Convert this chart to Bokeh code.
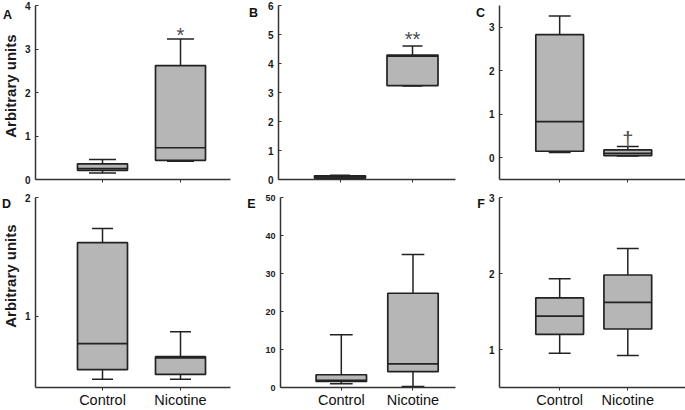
import math
from bokeh.plotting import figure
from bokeh.layouts import row, column
from bokeh.models import Range1d, FixedTicker, ColumnDataSource
from bokeh.core.properties import value
from bokeh.embed import file_html
from bokeh.resources import INLINE

# ---------------- data ----------------
groups = ["Control", "Nicotine"]
group_pos = [1, 2]
panel_letters = ["A", "B", "C", "D", "E", "F"]
y_title = "Arbitrary units"

# box plot statistics per group: [Control, Nicotine]
a_low = [0.15, 0.42]; a_q1 = [0.21, 0.44]; a_med = [0.25, 0.73]; a_q3 = [0.36, 2.62]; a_high = [0.46, 3.23]
b_low = [0.02, 3.22]; b_q1 = [0.05, 3.24]; b_med = [0.09, 4.25]; b_q3 = [0.13, 4.29]; b_high = [0.15, 4.60]
c_low = [0.12, 0.04]; c_q1 = [0.15, 0.05]; c_med = [0.83, 0.10]; c_q3 = [2.83, 0.18]; c_high = [3.26, 0.26]
d_low = [0.47, 0.47]; d_q1 = [0.55, 0.51]; d_med = [0.77, 0.65]; d_q3 = [1.62, 0.66]; d_high = [1.74, 0.87]
e_low = [1.0, 0.26]; e_q1 = [1.6, 4.2]; e_med = [1.85, 6.2]; e_q3 = [3.35, 24.8]; e_high = [13.9, 35.0]
f_low = [0.95, 0.92]; f_q1 = [1.20, 1.27]; f_med = [1.44, 1.62]; f_q3 = [1.68, 1.98]; f_high = [1.93, 2.33]

a_ticks = [0, 1, 2, 3, 4]
b_ticks = [0, 1, 2, 3, 4, 5, 6]
c_ticks = [0, 1, 2, 3]
d_ticks = [1, 2]
e_ticks = [0, 10, 20, 30, 40, 50]
f_ticks = [1, 2, 3]

a_yrange = (0, 4); b_yrange = (0, 6); c_yrange = (-0.5, 3.5)
d_yrange = (0.4, 2.0); e_yrange = (0, 50); f_yrange = (0.5, 3.0)

# significance marks: group position, y (baseline), text
a_sig = ([2], [3.32], ["*"])
b_sig = ([2], [4.84], ["**"])
c_sig = ([2], [0.42], ["\u2020"])

# ---------------- layout (pixel geometry) ----------------
FONT = "Liberation Sans"
FILL = "#b6b6b6"
LINE = "#222222"

row_h = [190, 220]
row_border = [(5, 11), (7, 22)]          # top, bottom border of each row's plots
side_w = [20, 30, 28]                    # strip holding panel letter / y title
panel_w = [212, 195, 200]
panel_border = [(15, 2), (16, 2), (13, 0)]
centers = [(82, 160), (77.5, 150), (73.5, 142)]   # category centres inside panel canvas
box_px = [50, 51, 48]


def side_strip(c, r, letter, letter_xy, title_xy=None):
    w, h = side_w[c], row_h[r]
    f = figure(width=w, height=h, x_range=Range1d(0, w), y_range=Range1d(h, 0),
               output_backend="svg", toolbar_location=None,
               x_axis_location=None, y_axis_location=None,
               min_border_left=0, min_border_right=0, min_border_top=0, min_border_bottom=0)
    f.outline_line_color = None
    f.grid.visible = False
    f.text(x=[letter_xy[0]], y=[letter_xy[1]], text=[letter], text_font=value(FONT),
           text_font_style="bold", text_font_size="12.5px", text_align="center",
           text_baseline="middle", text_color="#111111")
    if title_xy is not None:
        f.text(x=[title_xy[0]], y=[title_xy[1]], text=[y_title], text_font=value(FONT),
               text_font_style="bold", text_font_size="15px", text_align="center",
               text_baseline="middle", angle=math.pi / 2, text_color="#1a1a1a")
    return f


def make_panel(r, c, low, q1, med, q3, high, yr, ticks, sig=None, cap_px=21,
               xlabels=False, tick_font="10px"):
    width, height = panel_w[c], row_h[r]
    bl_, br_ = panel_border[c]
    bt_, bb_ = row_border[r]
    fx0, fx1 = bl_, width - br_
    c1, c2 = centers[c]
    k = c2 - c1
    x_start = 1 - (c1 - fx0) / k
    x_end = 2 + (fx1 - c2) / k

    p = figure(width=width, height=height,
               x_range=Range1d(x_start, x_end), y_range=Range1d(*yr),
               output_backend="svg", toolbar_location=None,
               min_border_left=bl_, min_border_right=br_,
               min_border_top=bt_, min_border_bottom=bb_)
    p.outline_line_color = None
    p.grid.visible = False

    bw = box_px[c] / k
    cw = cap_px / k
    src = ColumnDataSource(dict(
        x=group_pos, low=low, q1=q1, med=med, q3=q3, high=high,
        cl=[g - cw / 2 for g in group_pos], cr=[g + cw / 2 for g in group_pos],
        bl=[g - bw / 2 for g in group_pos], br=[g + bw / 2 for g in group_pos]))

    p.segment(x0="x", y0="q3", x1="x", y1="high", source=src, line_color=LINE, line_width=1.5)
    p.segment(x0="x", y0="q1", x1="x", y1="low", source=src, line_color=LINE, line_width=1.5)
    p.segment(x0="cl", y0="high", x1="cr", y1="high", source=src, line_color=LINE, line_width=1.5)
    p.segment(x0="cl", y0="low", x1="cr", y1="low", source=src, line_color=LINE, line_width=1.5)
    p.vbar(x="x", width=bw, bottom="q1", top="q3", source=src,
           fill_color=FILL, line_color=LINE, line_width=1.7)
    p.segment(x0="bl", y0="med", x1="br", y1="med", source=src, line_color=LINE, line_width=1.7)

    if sig is not None:
        size = "20px" if sig[2][0] == "\u2020" else "20px"
        p.text(x=sig[0], y=sig[1], text=sig[2], text_font=value(FONT),
               text_font_size=size, text_align="center", text_baseline="alphabetic",
               text_color="#4a4a4a")

    yax = p.yaxis[0]
    yax.ticker = FixedTicker(ticks=ticks)
    yax.major_tick_in = 3
    yax.major_tick_out = 0
    yax.minor_tick_line_color = None
    yax.axis_line_width = 1.5
    yax.axis_line_color = "#333333"
    yax.major_tick_line_color = "#333333"
    yax.major_label_text_font = FONT
    yax.major_label_text_font_style = "bold"
    yax.major_label_text_font_size = tick_font
    yax.major_label_text_color = "#1a1a1a"
    yax.major_label_standoff = 5

    xax = p.xaxis[0]
    xax.ticker = FixedTicker(ticks=group_pos)
    xax.major_tick_in = 0
    xax.major_tick_out = 3
    xax.minor_tick_line_color = None
    xax.axis_line_width = 1.5
    xax.axis_line_color = "#333333"
    xax.major_tick_line_color = "#333333"
    if xlabels:
        xax.major_label_overrides = {1: groups[0], 2: groups[1]}
        xax.major_label_text_font = FONT
        xax.major_label_text_font_size = "14.5px"
        xax.major_label_text_color = "#111111"
        xax.major_label_standoff = 1
    else:
        xax.major_label_overrides = {1: "", 2: ""}
        xax.major_label_text_font_size = "0px"
        xax.major_label_standoff = 0
    return p


sA = side_strip(0, 0, panel_letters[0], (7, 10.5), title_xy=(10, 88))
sB = side_strip(1, 0, panel_letters[1], (21, 8))
sC = side_strip(2, 0, panel_letters[2], (23, 8))
sD = side_strip(0, 1, panel_letters[3], (6, 8), title_xy=(10, 91))
sE = side_strip(1, 1, panel_letters[4], (19, 8))
sF = side_strip(2, 1, panel_letters[5], (23.5, 8))

pA = make_panel(0, 0, a_low, a_q1, a_med, a_q3, a_high, a_yrange, a_ticks, sig=a_sig, cap_px=27)
pB = make_panel(0, 1, b_low, b_q1, b_med, b_q3, b_high, b_yrange, b_ticks, sig=b_sig, cap_px=20)
pC = make_panel(0, 2, c_low, c_q1, c_med, c_q3, c_high, c_yrange, c_ticks, sig=c_sig, cap_px=22)
pD = make_panel(1, 0, d_low, d_q1, d_med, d_q3, d_high, d_yrange, d_ticks, cap_px=21, xlabels=True)
pE = make_panel(1, 1, e_low, e_q1, e_med, e_q3, e_high, e_yrange, e_ticks, cap_px=23,
                xlabels=True, tick_font="9px")
pF = make_panel(1, 2, f_low, f_q1, f_med, f_q3, f_high, f_yrange, f_ticks, cap_px=22, xlabels=True)

layout = column(row(sA, pA, sB, pB, sC, pC, spacing=0),
                row(sD, pD, sE, pE, sF, pF, spacing=0), spacing=0)

open("out.html", "w").write(file_html(layout, INLINE))
